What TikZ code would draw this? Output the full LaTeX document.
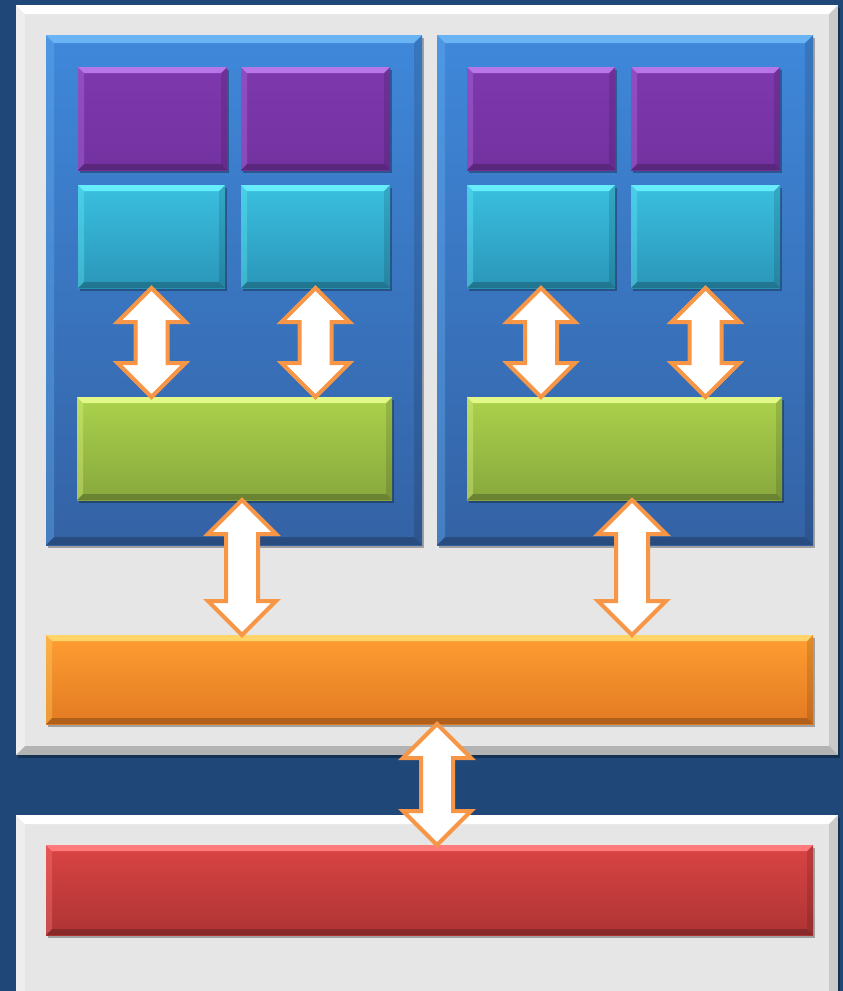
\documentclass[tikz,border=0pt]{standalone}
\usetikzlibrary{calc,shadows}

\definecolor{bg}{HTML}{1F4878}
\definecolor{panelgray}{HTML}{E6E6E6}
\definecolor{blueT}{HTML}{3F88DA}
\definecolor{blueB}{HTML}{3462A5}
\definecolor{blueL}{HTML}{6AB4F4}
\definecolor{purpT}{HTML}{7E38AD}
\definecolor{purpB}{HTML}{7332A0}
\definecolor{purpL}{HTML}{B676E8}
\definecolor{cyanT}{HTML}{3AC0E0}
\definecolor{cyanB}{HTML}{2A96B8}
\definecolor{cyanL}{HTML}{66ECFA}
\definecolor{grnT}{HTML}{ABD24C}
\definecolor{grnB}{HTML}{88A83E}
\definecolor{grnL}{HTML}{E2F888}
\definecolor{orgT}{HTML}{FF9E32}
\definecolor{orgB}{HTML}{E27A22}
\definecolor{orgL}{HTML}{FFD468}
\definecolor{redT}{HTML}{DA4444}
\definecolor{redB}{HTML}{AE3434}
\definecolor{redL}{HTML}{FF7A7A}
\definecolor{arrowline}{HTML}{F79646}

\tikzset{
  x=1pt, y=-1pt,
  box/.style={rectangle, inner sep=0pt, outer sep=0pt, anchor=north west},
  % bevelled face: #1 bevel size, #2 highlight colour
  bevel/.style 2 args={path picture={
      \coordinate (nw) at (path picture bounding box.north west);
      \coordinate (ne) at (path picture bounding box.north east);
      \coordinate (sw) at (path picture bounding box.south west);
      \coordinate (se) at (path picture bounding box.south east);
      \fill[#2] (nw) -- (ne) -- ($(ne)+(-#1,#1)$) -- ($(nw)+(#1,#1)$) -- cycle;
      \fill[#2, opacity=0.35] (nw) -- ($(nw)+(#1,#1)$) -- ($(sw)+(#1,-#1)$) -- (sw) -- cycle;
      \fill[black, opacity=0.22] (sw) -- ($(sw)+(#1,-#1)$) -- ($(se)+(-#1,-#1)$) -- (se) -- cycle;
      \fill[black, opacity=0.12] (se) -- ($(se)+(-#1,-#1)$) -- ($(ne)+(-#1,#1)$) -- (ne) -- cycle;
  }},
  shade/.style={drop shadow={shadow xshift=1.5pt, shadow yshift=-2.5pt,
      fill=black, opacity=0.3}},
  panel/.style={box, fill=panelgray, bevel={9}{white}, shade},
  cluster/.style={box, top color=blueT, bottom color=blueB, bevel={8}{blueL}, shade},
  unitA/.style={box, top color=purpT, bottom color=purpB, bevel={6}{purpL}, shade},
  unitB/.style={box, top color=cyanT, bottom color=cyanB, bevel={6}{cyanL}, shade},
  cache/.style={box, top color=grnT, bottom color=grnB, bevel={6}{grnL}, shade},
  bus/.style={box, top color=orgT, bottom color=orgB, bevel={6}{orgL}, shade},
  dram/.style={box, top color=redT, bottom color=redB, bevel={6}{redL}, shade},
  duplex/.style={draw=arrowline, fill=white, line width=4pt, line join=miter},
}

% two-headed block arrow between a top tip and a bottom tip
\newcommand\biarrow[2]{%
  \draw[duplex] (#1) -- ($(#1)+(34,34)$) -- ($(#1)+(16,34)$)
    -- ($(#2)+(16,-34)$) -- ($(#2)+(34,-34)$) -- (#2)
    -- ($(#2)+(-34,-34)$) -- ($(#2)+(-16,-34)$)
    -- ($(#1)+(-16,34)$) -- ($(#1)+(-34,34)$) -- cycle;}

\begin{document}
\begin{tikzpicture}
\useasboundingbox (0,0) rectangle (843,991);
\fill[bg] (0,0) rectangle (843,991);

% chip and memory panels
\node[panel, minimum width=822pt, minimum height=750pt] (chip) at (16,5) {};
\node[panel, minimum width=822pt, minimum height=190pt] (mem) at (16,815) {};

% two clusters
\node[cluster, minimum width=376pt, minimum height=510pt] (L) at (46,35) {};
\node[cluster, minimum width=376pt, minimum height=510pt] (R) at (437,35) {};

% processing units
\node[unitA, minimum width=149pt, minimum height=103pt] (p1) at (78,67) {};
\node[unitA, minimum width=149pt, minimum height=103pt] (p2) at (241,67) {};
\node[unitA, minimum width=148pt, minimum height=103pt] (p3) at (467,67) {};
\node[unitA, minimum width=149pt, minimum height=103pt] (p4) at (631,67) {};

\node[unitB, minimum width=147pt, minimum height=103pt] (c1) at (78,185) {};
\node[unitB, minimum width=149pt, minimum height=103pt] (c2) at (241,185) {};
\node[unitB, minimum width=148pt, minimum height=103pt] (c3) at (467,185) {};
\node[unitB, minimum width=149pt, minimum height=103pt] (c4) at (631,185) {};

% shared caches
\node[cache, minimum width=315pt, minimum height=103pt] (g1) at (77,397) {};
\node[cache, minimum width=315pt, minimum height=103pt] (g2) at (467,397) {};

% interconnect and memory
\node[bus, minimum width=767pt, minimum height=89pt] (o) at (46,635) {};
\node[dram, minimum width=767pt, minimum height=90pt] (r) at (46,845) {};

% arrow end points
\coordinate (a1t) at (c1.south); \coordinate (a1b) at (c1.south |- g1.north);
\coordinate (a2t) at (c2.south); \coordinate (a2b) at (c2.south |- g1.north);
\coordinate (a3t) at (c3.south); \coordinate (a3b) at (c3.south |- g2.north);
\coordinate (a4t) at (c4.south); \coordinate (a4b) at (c4.south |- g2.north);
\coordinate (b1t) at ($(g1.south)+(7.5,0)$); \coordinate (b1b) at (b1t |- o.north);
\coordinate (b2t) at ($(g2.south)+(7.5,0)$); \coordinate (b2b) at (b2t |- o.north);
\coordinate (m1t) at ($(o.south)+(7.5,0)$);  \coordinate (m1b) at (m1t |- r.north);

\biarrow{a1t}{a1b}
\biarrow{a2t}{a2b}
\biarrow{a3t}{a3b}
\biarrow{a4t}{a4b}
\biarrow{b1t}{b1b}
\biarrow{b2t}{b2b}
\biarrow{m1t}{m1b}
\end{tikzpicture}
\end{document}
